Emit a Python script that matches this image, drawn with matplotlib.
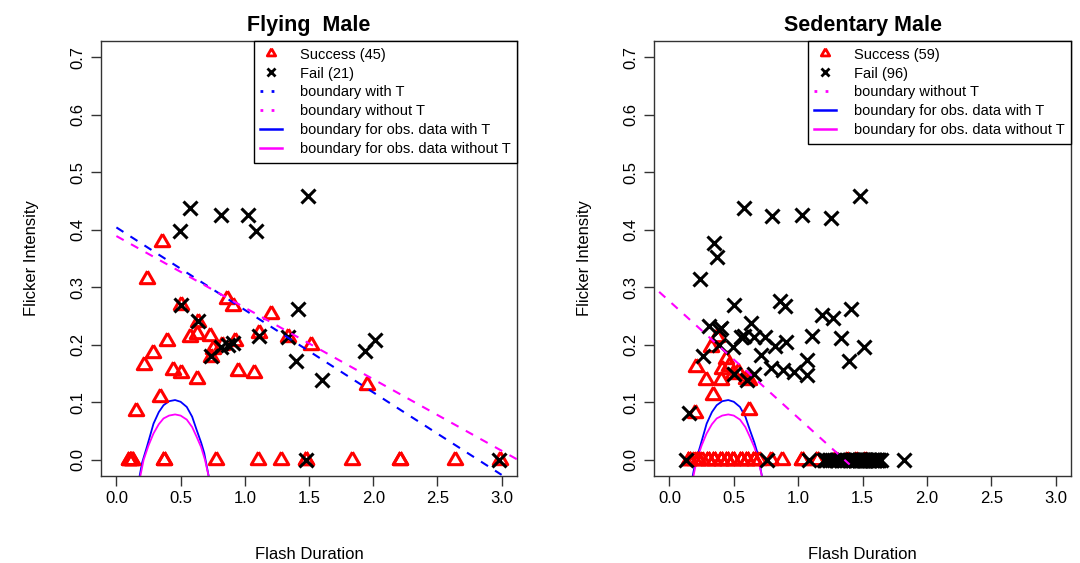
import matplotlib
matplotlib.use("Agg")
import matplotlib.pyplot as plt
from matplotlib.lines import Line2D

plt.rcParams['font.family'] = ['Liberation Sans', 'DejaVu Sans']

# ---------------- data: Flying Male ----------------
fly_succ_x = [0.354, 0.238, 0.858, 0.910, 0.504, 1.207, 0.638, 0.574, 0.625, 0.729,
              0.393, 0.755, 0.820, 0.922, 1.111, 1.336, 1.512, 0.282, 0.212, 0.439,
              0.504, 0.625, 0.948, 1.070, 0.336, 0.152, 0.736, 1.954,
              0.096, 0.121, 0.367, 0.773, 1.103, 1.284, 1.473, 1.832, 2.210, 2.636, 2.985,
              0.096, 0.110, 0.121, 2.210, 1.473, 0.367]
fly_succ_y = [0.378, 0.315, 0.279, 0.268, 0.270, 0.253, 0.239, 0.214, 0.219, 0.216,
              0.206, 0.193, 0.200, 0.207, 0.220, 0.213, 0.199, 0.186, 0.165, 0.157,
              0.151, 0.140, 0.155, 0.151, 0.109, 0.085, 0.178, 0.130,
              0.0, 0.0, 0.0, 0.0, 0.0, 0.0, 0.0, 0.0, 0.0, 0.0, 0.0,
              0.0, 0.0, 0.0, 0.0, 0.0, 0.0]
fly_fail_x = [1.490, 0.574, 0.811, 1.026, 0.496, 1.090, 0.504, 0.633, 1.413, 0.736,
              0.811, 0.910, 1.111, 1.336, 1.395, 1.602, 1.478, 2.980, 1.936, 2.013, 0.870]
fly_fail_y = [0.458, 0.437, 0.426, 0.426, 0.398, 0.398, 0.270, 0.242, 0.262, 0.180,
              0.197, 0.204, 0.216, 0.213, 0.171, 0.139, 0.000, 0.000, 0.190, 0.208, 0.200]

# boundary lines (end points)
fly_bnd_T_x = [0.0, 3.0]
fly_bnd_T_y = [0.404, -0.026]
fly_bnd_noT_x = [0.0, 3.12]
fly_bnd_noT_y = [0.389, 0.001]

# ---------------- data: Sedentary Male ----------------
sed_succ_x = [0.370, 0.320, 0.206, 0.283, 0.335, 0.464, 0.529, 0.619, 0.619, 0.200,
              0.400, 0.412, 0.497, 0.593, 0.440,
              0.154, 0.190, 0.218, 0.250, 0.296, 0.347, 0.399, 0.451, 0.490, 0.554,
              0.606, 0.658, 0.696, 0.787, 0.877, 1.032, 1.148, 1.290, 1.380, 1.450,
              1.520,
              0.154, 0.154, 0.218, 0.218, 0.296, 0.296, 0.347, 0.347, 0.399, 0.399,
              0.451, 0.451, 0.490, 0.490, 0.554, 0.554, 0.606, 0.606, 0.658, 0.658,
              1.032, 1.148, 1.290]
sed_succ_y = [0.214, 0.196, 0.162, 0.138, 0.112, 0.164, 0.153, 0.138, 0.086, 0.081,
              0.138, 0.158, 0.150, 0.141, 0.175] + [0.0] * 44
sed_fail_x = [1.484, 0.580, 0.800, 1.027, 1.257, 0.350, 0.370, 0.235,
              0.503, 0.860, 0.900, 0.632, 1.187, 1.270, 1.407, 0.309, 0.386, 0.554,
              0.658, 0.740, 1.110, 1.330, 0.386, 0.490, 0.820, 0.903, 1.510, 0.257,
              0.710, 1.071, 1.394, 0.787, 0.885, 0.968, 1.071, 0.660, 0.503, 0.606,
              0.154, 0.400, 0.580,
              0.128, 0.761, 1.084, 1.210, 1.250, 1.240, 1.300, 1.350, 1.400, 1.420,
              1.440, 1.460, 1.480, 1.500, 1.520, 1.540, 1.560, 1.580, 1.600, 1.620,
              1.640, 1.820, 1.470, 1.490, 1.510, 1.530, 1.550, 1.570, 1.590, 1.610,
              1.430, 1.450, 1.470, 1.490, 1.510, 1.530, 1.550, 1.570, 1.590, 1.610,
              1.630, 1.380, 1.360, 1.330, 1.280, 1.220, 1.200, 1.260, 1.310, 1.410,
              1.440, 1.480, 1.520, 1.560, 1.600]
sed_fail_y = [0.458, 0.437, 0.424, 0.426, 0.421, 0.377, 0.352, 0.314,
              0.269, 0.276, 0.268, 0.238, 0.251, 0.246, 0.262, 0.233, 0.226, 0.214,
              0.213, 0.213, 0.215, 0.211, 0.200, 0.196, 0.198, 0.205, 0.196, 0.181,
              0.182, 0.174, 0.172, 0.160, 0.157, 0.153, 0.148, 0.150, 0.150, 0.139,
              0.081, 0.230, 0.216] + [0.0] * 55

sed_bnd_noT_x = [-0.08, 1.40]
sed_bnd_noT_y = [0.292, -0.008]

obs_T_x = [0.175, 0.200, 0.238, 0.289, 0.330, 0.367, 0.410, 0.457, 0.500, 0.548,
           0.590, 0.625, 0.660, 0.684, 0.720]
obs_T_y = [-0.035, -0.005, 0.023, 0.063, 0.083, 0.095, 0.102, 0.104, 0.101, 0.092,
           0.075, 0.052, 0.030, 0.012, -0.030]
obs_noT_x = [0.180, 0.212, 0.250, 0.289, 0.330, 0.367, 0.410, 0.457, 0.500, 0.548,
             0.590, 0.625, 0.660, 0.690, 0.725]
obs_noT_y = [-0.035, 0.000, 0.025, 0.046, 0.062, 0.072, 0.077, 0.079, 0.077, 0.070,
             0.057, 0.040, 0.022, 0.000, -0.035]

x_ticks = [0.0, 0.5, 1.0, 1.5, 2.0, 2.5, 3.0]
y_ticks = [0.0, 0.1, 0.2, 0.3, 0.4, 0.5, 0.6, 0.7]

# ---------------- plotting ----------------
TRI = [(0, 1.555), (1.347, -0.778), (-1.347, -0.778), (0, 1.555)]
BLUE = '#0000FF'
MAG = '#FF00FF'

fig = plt.figure(figsize=(10.8, 5.63), dpi=100)
W, H = 1080, 563
ax1 = fig.add_axes([101 / W, (H - 476) / H, 416 / W, 435 / H])
ax2 = fig.add_axes([654 / W, (H - 476) / H, 417 / W, 435 / H])


def style(ax, title):
    ax.set_xlim(-0.12, 3.12)
    ax.set_ylim(-0.028, 0.728)
    ax.set_xticks(x_ticks)
    ax.set_yticks(y_ticks)
    ax.set_xticklabels([f"{v:.1f}" for v in x_ticks])
    ax.set_yticklabels([f"{v:.1f}" for v in y_ticks], rotation=90, va='center')
    ax.tick_params(direction='out', length=7, width=1, labelsize=12, pad=4, color='#333333')
    for s in ax.spines.values():
        s.set_linewidth(1.0)
        s.set_color('#333333')
    ax.set_title(title, fontsize=15.5, fontweight='bold', pad=7.5)
    ax.set_xlabel('Flash Duration', fontsize=12, labelpad=29)
    ax.set_ylabel('Flicker Intensity', fontsize=12, labelpad=23)


def points(ax, sx, sy, fx, fy):
    ax.plot(sx, sy, linestyle='none', marker=TRI, ms=12, mew=2.2, mec='red', mfc='none', zorder=3)
    ax.plot(fx, fy, linestyle='none', marker='x', ms=10, mew=2.2, color='black', zorder=4)


def curves(ax):
    ax.plot(obs_T_x, obs_T_y, color=BLUE, lw=1.3, zorder=2)
    ax.plot(obs_noT_x, obs_noT_y, color=MAG, lw=1.3, zorder=2)


# Flying
points(ax1, fly_succ_x, fly_succ_y, fly_fail_x, fly_fail_y)
ax1.plot(fly_bnd_T_x, fly_bnd_T_y, color=BLUE, lw=1.5, dashes=(4, 4), zorder=5)
ax1.plot(fly_bnd_noT_x, fly_bnd_noT_y, color=MAG, lw=1.5, dashes=(4, 4), zorder=5)
curves(ax1)
style(ax1, 'Flying  Male')

# Sedentary
points(ax2, sed_succ_x, sed_succ_y, sed_fail_x, sed_fail_y)
ax2.plot(sed_bnd_noT_x, sed_bnd_noT_y, color=MAG, lw=1.5, dashes=(4, 4), zorder=5)
curves(ax2)
style(ax2, 'Sedentary Male')

h_succ = Line2D([], [], linestyle='none', marker=TRI, ms=7, mew=2, mec='red', mfc='none')
h_fail = Line2D([], [], linestyle='none', marker='x', ms=6, mew=2, color='black')
h_dT = Line2D([], [], color=BLUE, lw=2, linestyle=(0, (1, 3)))
h_dnT = Line2D([], [], color=MAG, lw=2, linestyle=(0, (1, 3)))
h_sT = Line2D([], [], color=BLUE, lw=1.8)
h_snT = Line2D([], [], color=MAG, lw=1.8)

leg_kw = dict(loc='upper right', borderaxespad=0, fancybox=False, framealpha=1,
              edgecolor='black', fontsize=10.5, handlelength=1.5, handletextpad=1.2,
              labelspacing=0.34, borderpad=0.45)
l1 = ax1.legend([h_succ, h_fail, h_dT, h_dnT, h_sT, h_snT],
                [f'Success ({len(fly_succ_x)})', f'Fail ({len(fly_fail_x)})', 'boundary with T',
                 'boundary without T', 'boundary for obs. data with T',
                 'boundary for obs. data without T'], **leg_kw)
l2 = ax2.legend([h_succ, h_fail, h_dnT, h_sT, h_snT],
                [f'Success ({len(sed_succ_x)})', f'Fail ({len(sed_fail_x)})',
                 'boundary without T', 'boundary for obs. data with T',
                 'boundary for obs. data without T'], **leg_kw)
for l in (l1, l2):
    l.get_frame().set_linewidth(1.0)

fig.savefig('out.png', dpi=100)
